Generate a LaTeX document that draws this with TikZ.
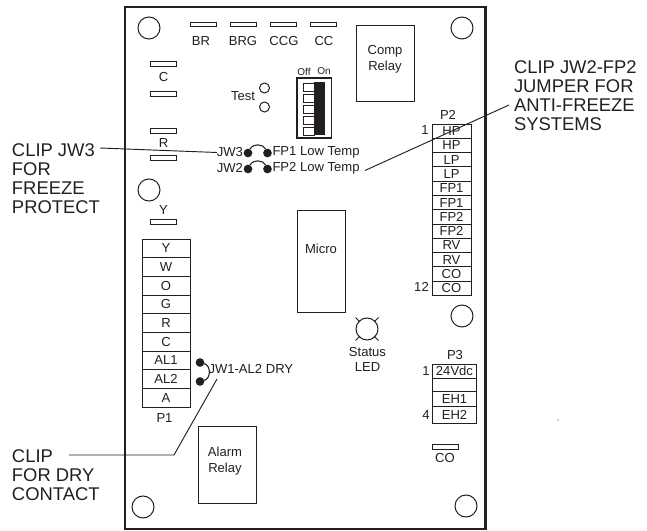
\documentclass[tikz,border=0pt]{standalone}
\usepackage{fontspec}
\setmainfont{Liberation Sans}
\usetikzlibrary{positioning, calc}
\definecolor{pcbink}{HTML}{231F20}

\begin{document}
\begin{tikzpicture}[
    x=0.75pt, y=-0.75pt,
    every node/.style={text=pcbink, outer sep=0pt},
    hole/.style={circle, draw=pcbink, line width=0.75pt, minimum size=16.5pt, inner sep=0pt},
    slot/.style={rectangle, draw=pcbink, line width=0.8pt, fill=white, minimum width=20pt, minimum height=3.6pt, inner sep=0pt},
    lbl/.style={font=\fontsize{9.8}{11}\selectfont, inner sep=0pt, align=center},
    call/.style={font=\fontsize{13.8}{14.25}\selectfont, inner sep=0pt, align=left},
    pone/.style={rectangle, draw=pcbink, line width=0.55pt, minimum width=36pt, minimum height=14pt, inner sep=0pt, font=\fontsize{9.8}{10}\selectfont},
    ptwo/.style={rectangle, draw=pcbink, line width=0.55pt, minimum width=29.25pt, minimum height=10.7pt, inner sep=0pt, font=\fontsize{9.8}{10}\selectfont},
    pthree/.style={rectangle, draw=pcbink, line width=0.55pt, minimum width=33pt, inner sep=0pt, font=\fontsize{9.8}{10}\selectfont},
    relay/.style={rectangle, draw=pcbink, line width=0.75pt, inner sep=0pt, align=center},
    dot/.style={circle, fill=pcbink, minimum size=6.5pt, inner sep=0pt},
    jump/.style={draw=pcbink, line width=0.8pt},
    lead/.style={draw=pcbink, line width=0.7pt}
]
\useasboundingbox (0,0) rectangle (647,531);

% Board
\draw[pcbink, line width=1.6pt] (125,7) rectangle (485.5,529);

% Mounting holes
\node[hole] (h1) at (149,28) {};
\node[hole] (h2) at (462,28) {};
\node[hole] (h3) at (149,190) {};
\node[hole] (h4) at (462,316) {};
\node[hole] (h5) at (143,507) {};
\node[hole] (h6) at (466,506) {};

% Top slots
\node[slot] (sbr) at (203.5,24.5) {};
\node[slot] (sbrg) at (243.5,24.5) {};
\node[slot] (sccg) at (283.5,24.5) {};
\node[slot] (scc) at (323.5,24.5) {};
\node[lbl] at (201,41.5) {BR};
\node[lbl] at (243,41.5) {BRG};
\node[lbl] at (284,41) {CCG};
\node[lbl] at (324,41.5) {CC};

% Left slots
\node[slot] (sc1) at (163.5,64) {};
\node[slot] (sc2) at (163.5,94) {};
\node[slot] (sr1) at (163.5,131) {};
\node[slot] (sr2) at (163.5,158) {};
\node[slot] (sy) at (163.5,222) {};
\node[lbl] at (163.5,77) {C};
\node[lbl] at (163.5,143) {R};
\node[lbl] at (163.5,210) {Y};

% Test
\node[lbl] at (243,96) {Test};
\node[circle, draw=pcbink, line width=0.75pt, minimum size=7.5pt, inner sep=0pt] (t1) at (264.5,88) {};
\node[circle, draw=pcbink, line width=0.75pt, minimum size=7.5pt, inner sep=0pt] (t2) at (264.5,107) {};

% DIP switch
\node[font=\fontsize{7.5}{8}\selectfont, inner sep=0pt] at (304,71.5) {Off};
\node[font=\fontsize{7.5}{8}\selectfont, inner sep=0pt] at (324,71.5) {On};
\draw[pcbink, line width=0.9pt] (297,78) rectangle (331.5,138);
\fill[pcbink] (314,82.5) rectangle (325,135.5);
\foreach \y in {83,94,105,116,127} {
  \draw[pcbink, line width=0.7pt, fill=white] (303.5,\y) rectangle (314,\y+8);
}

% Relays and micro
\node[relay, minimum width=43.5pt, minimum height=57pt] (comp) at (385.5,64) {};
\node[lbl] at (385,59) {Comp\\[1pt]Relay};
\node[relay, minimum width=36pt, minimum height=76.5pt] (micro) at (321,262) {};
\node[lbl] at (321,249) {Micro};
\node[relay, minimum width=43.5pt, minimum height=57.75pt] (alarm) at (227,464.5) {};
\node[lbl] at (225,461.5) {Alarm\\[1pt]Relay};

% P1
\node[pone] (p1a) at (166,248.3) {Y};
\node[pone, below=0pt of p1a] (p1b) {W};
\node[pone, below=0pt of p1b] (p1c) {O};
\node[pone, below=0pt of p1c] (p1d) {G};
\node[pone, below=0pt of p1d] (p1e) {R};
\node[pone, below=0pt of p1e] (p1f) {C};
\node[pone, below=0pt of p1f] (p1g) {AL1};
\node[pone, below=0pt of p1g] (p1h) {AL2};
\node[pone, below=0pt of p1h] (p1i) {A};
\node[lbl] at (164.5,418) {P1};

% P2
\node[lbl] at (448,115) {P2};
\node[lbl] at (425,130) {1};
\node[lbl] at (421.5,287) {12};
\node[ptwo] (p2a) at (451.5,131.2) {HP};
\node[ptwo, below=0pt of p2a] (p2b) {HP};
\node[ptwo, below=0pt of p2b] (p2c) {LP};
\node[ptwo, below=0pt of p2c] (p2d) {LP};
\node[ptwo, below=0pt of p2d] (p2e) {FP1};
\node[ptwo, below=0pt of p2e] (p2f) {FP1};
\node[ptwo, below=0pt of p2f] (p2g) {FP2};
\node[ptwo, below=0pt of p2g] (p2h) {FP2};
\node[ptwo, below=0pt of p2h] (p2i) {RV};
\node[ptwo, below=0pt of p2i] (p2j) {RV};
\node[ptwo, below=0pt of p2j] (p2k) {CO};
\node[ptwo, below=0pt of p2k] (p2l) {CO};

% P3
\node[lbl] at (455,355) {P3};
\node[lbl] at (426,371) {1};
\node[lbl] at (426,415) {4};
\node[pthree, minimum height=10.5pt] (p3a) at (454.5,371) {24Vdc};
\node[pthree, minimum height=10pt, below=0pt of p3a] (p3b) {};
\node[pthree, minimum height=11.25pt, below=0pt of p3b] (p3c) {EH1};
\node[pthree, minimum height=12.5pt, below=0pt of p3c] (p3d) {EH2};

% Status LED and CO slot
\node[hole] (led) at (367,329) {};
\draw[pcbink, line width=0.6pt] ($(led)+(-11.5,-11.5)$) -- ($(led)+(-7,-7)$);
\draw[pcbink, line width=0.6pt] ($(led)+(11.5,-11.5)$) -- ($(led)+(7,-7)$);
\draw[pcbink, line width=0.6pt] ($(led)+(-11.5,11.5)$) -- ($(led)+(-7,7)$);
\draw[pcbink, line width=0.6pt] ($(led)+(11.5,11.5)$) -- ($(led)+(7,7)$);
\node[lbl] at (367.5,359.5) {Status\\[0pt]LED};
\node[slot] (sco) at (445.5,447) {};
\node[lbl] at (445,458.5) {CO};

% Jumpers
\node[dot] (jw3a) at (248,153) {};
\node[dot] (jw3b) at (267.5,153) {};
\node[dot] (jw2a) at (248,169) {};
\node[dot] (jw2b) at (267.5,169) {};
\node[dot] (jw1a) at (200,362.5) {};
\node[dot] (jw1b) at (200,381.5) {};
\draw[jump] (jw3a) to[out=65, in=115] (jw3b);
\draw[jump] (jw2a) to[out=65, in=115] (jw2b);
\draw[jump] (jw1a) to[out=-15, in=15, looseness=1.1] (jw1b);
\node[lbl, anchor=east] (tjw3) at (243,152.5) {JW3};
\node[lbl, anchor=east] (tjw2) at (243,168.5) {JW2};
\node[lbl, anchor=west] (tfp1) at (272.5,152) {FP1 Low Temp};
\node[lbl, anchor=west] (tfp2) at (272.5,168) {FP2 Low Temp};
\node[lbl, anchor=west] (tjw1) at (208.5,369) {JW1-AL2 DRY};

% Callouts
\node[call, anchor=west] (cfreeze) at (12,179) {CLIP JW3\\FOR\\FREEZE\\PROTECT};
\node[call, anchor=west] (canti) at (514,96) {CLIP JW2-FP2\\JUMPER FOR\\ANTI-FREEZE\\SYSTEMS};
\node[call, anchor=west] (cdry) at (12,475.5) {CLIP\\FOR DRY\\CONTACT};

% Leaders
\coordinate (lfreeze) at (100,148);
\coordinate (lanti) at (509,105);
\coordinate (lfp) at (365,170.5);
\coordinate (ldry) at (69,455);
\coordinate (lbend) at (174,455);
\coordinate (ljw) at (217,379);
\draw[lead] (lfreeze) -- (tjw3.west);
\draw[lead] (lanti) -- (lfp);
\draw[lead] (ldry) -- (lbend) -- (ljw);

% Speck
\node[circle, fill=pcbink, minimum size=1pt, inner sep=0pt] (speck) at (558,420) {};

\end{tikzpicture}
\end{document}
